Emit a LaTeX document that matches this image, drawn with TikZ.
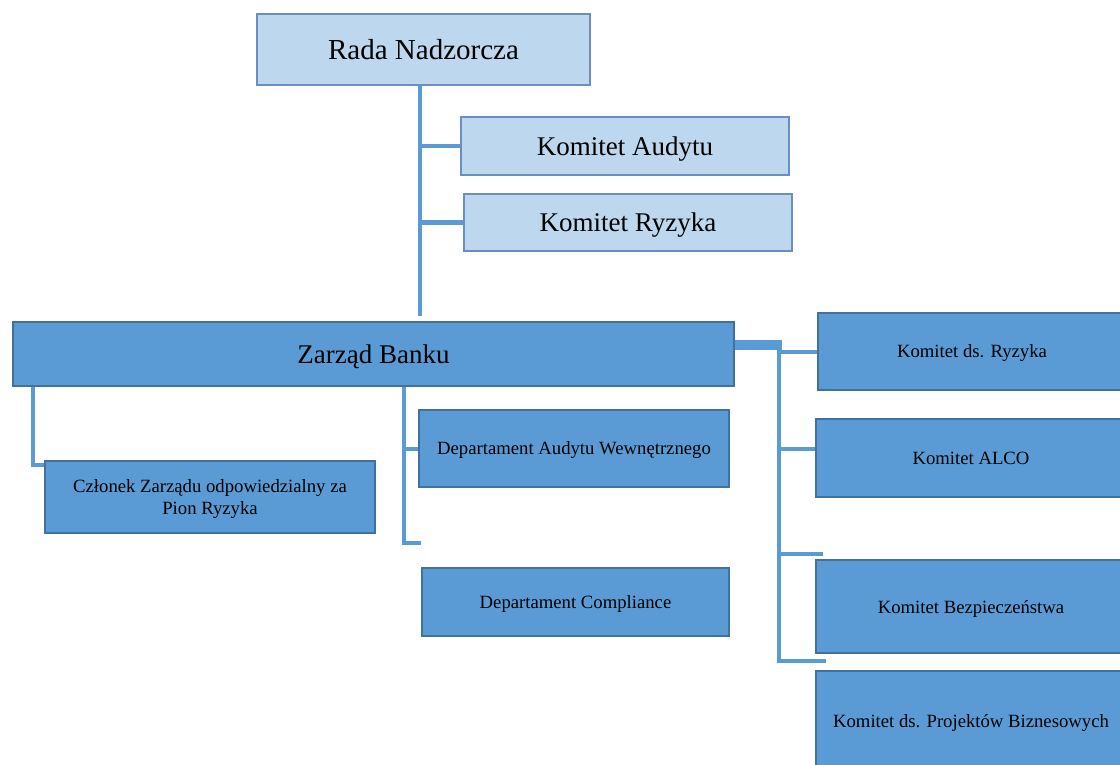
\documentclass[tikz,border=0pt]{standalone}
\usepackage{fontspec}
\setmainfont{Liberation Serif}
\definecolor{jasny}{HTML}{BDD7EE}
\definecolor{ciemny}{HTML}{5B9BD5}
\definecolor{ramka}{HTML}{41719C}
\definecolor{ramkaj}{HTML}{6C8EBF}
\definecolor{linia}{HTML}{5B9BD5}
\tikzset{
  rada/.style={draw=ramkaj, fill=jasny, line width=1.3pt, inner sep=0pt, text depth=0pt,
    font={\fontsize{27pt}{30pt}\selectfont}},
  zarzad/.style={draw=ramka, fill=ciemny, line width=1.3pt, inner sep=0pt, text depth=0pt,
    font={\fontsize{27pt}{30pt}\selectfont}},
  komitet/.style={draw=ramka, fill=ciemny, line width=1.3pt, inner sep=0pt, text depth=0pt,
    align=center, font={\fontsize{18.7pt}{22pt}\selectfont}},
  polaczenie/.style={draw=linia, line width=4pt},
  gruba/.style={draw=linia, line width=10pt}}

\begin{document}
\begin{tikzpicture}[x=1pt,y=-1pt]
\useasboundingbox (0,0) rectangle (1120,765);
% rada nadzorcza i jej komitety
\node[rada, minimum width=333pt, minimum height=71pt, font={\fontsize{29pt}{32pt}\selectfont}] (rn) at (423.5,49.5) {Rada Nadzorcza};
\node[rada, minimum width=328pt, minimum height=58pt] (ka) at (625,146) {Komitet Audytu};
\node[rada, minimum width=328pt, minimum height=57pt] (kr) at (628,222.5) {Komitet Ryzyka};
% zarzad
\node[zarzad, minimum width=721pt, minimum height=64pt] (zb) at (373.5,354) {Zarząd Banku};
\node[komitet, minimum width=330pt, minimum height=72pt] (cz) at (210,497) {Członek Zarządu odpowiedzialny za\\Pion Ryzyka};
\node[komitet, minimum width=310pt, minimum height=77pt] (dau) at (574,448.5) {Departament Audytu Wewnętrznego};
\node[komitet, minimum width=307pt, minimum height=68pt] (dc) at (575.5,602) {Departament Compliance};
% komitety zarzadu
\node[komitet, minimum width=308pt, minimum height=77pt] (kdr) at (972,351.5) {Komitet ds. Ryzyka};
\node[komitet, minimum width=310pt, minimum height=78pt] (alco) at (971,458) {Komitet ALCO};
\node[komitet, minimum width=310pt, minimum height=93pt] (kb) at (971,606.5) {Komitet Bezpieczeństwa};
\node[komitet, minimum width=310pt, minimum height=100pt] (kp) at (971,721) {Komitet ds. Projektów Biznesowych};

\coordinate (rlin) at (420,316);
\coordinate (zl) at (33,0);
\coordinate (zs) at (404,0);
\coordinate (kon) at (421,543);
\coordinate (zg) at (782,344.5);
\coordinate (zp) at (779,0);
\coordinate (s1) at (823,554);
\coordinate (s2) at (826,661);

\draw[polaczenie] ([xshift=-3.5pt]rn.south) -- (rlin);
\draw[polaczenie] (ka.west) -- (ka.west -| rlin);
\draw[polaczenie] (kr.west) -- (kr.west -| rlin);

\draw[polaczenie] (zb.south -| zl) |- ([yshift=-5pt]cz.north west);
\draw[polaczenie] (zb.south -| zs) |- (kon);
\draw[polaczenie] (dau.west) -- (dau.west -| zs);

\draw[gruba] (zb.east |- zg) -- (zg);
\draw[polaczenie] ([yshift=5pt]zg -| zp) |- (s2);
\draw[polaczenie] (kdr.west) -- (kdr.west -| zp);
\draw[polaczenie] ([yshift=9pt]alco.west) -- ([yshift=9pt]alco.west -| zp);
\draw[polaczenie] (s1 -| zp) -- (s1);
\end{tikzpicture}
\end{document}
